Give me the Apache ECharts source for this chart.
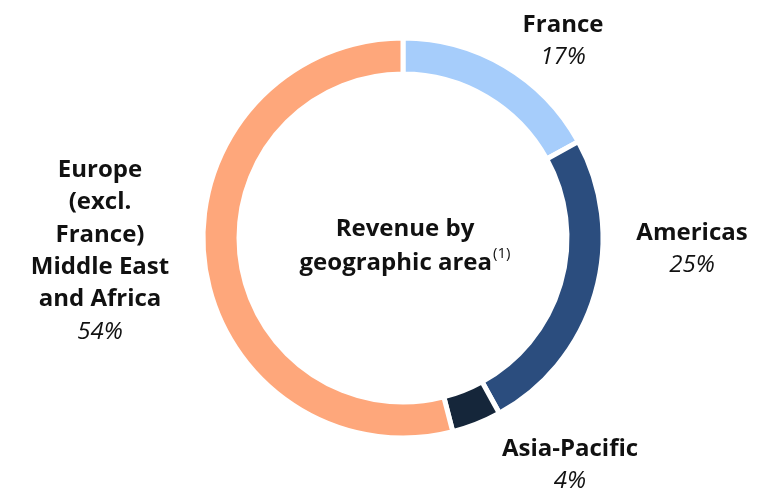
<!DOCTYPE html>
<html>
<head>
<meta charset="utf-8">
<script src="https://cdn.jsdelivr.net/npm/echarts@6/dist/echarts.min.js"></script>
<style>
html,body{margin:0;padding:0;background:#fff;}
#chart{width:769px;height:498px;}
</style>
</head>
<body>
<div id="chart"></div>
<script>
const categories = ["France", "Americas", "Asia-Pacific", "Europe\n(excl.\nFrance)\nMiddle East\nand Africa"];
const shares = [17, 25, 4, 54];
const colors = ["#a6cdfb", "#2b4d7e", "#15263a", "#fea77b"];
const labelAnchors = [[563, 41], [692, 249], [570, 465], [100, 251]];
const centerTitle = ["Revenue by", "geographic area"];
const centerNote = "(1)";

const FONT = "Open Sans";
const chart = echarts.init(document.getElementById('chart'), null, {renderer: 'canvas'});

const data = categories.map((c, i) => ({
  name: c,
  value: shares[i],
  itemStyle: {color: colors[i]}
}));

chart.setOption({
  animation: false,
  backgroundColor: '#ffffff',
  graphic: [{
    type: 'text',
    x: 405,
    y: 246,
    style: {
      text: '{t|' + centerTitle[0] + '}\n{t|' + centerTitle[1] + '}{s|' + centerNote + '}',
      align: 'center',
      verticalAlign: 'middle',
      rich: {
        t: {fontFamily: FONT, fontWeight: 'bold', fontSize: 24, lineHeight: 34, fill: '#111', align: 'center'},
        s: {fontFamily: FONT, fontSize: 15, lineHeight: 34, fill: '#111', verticalAlign: 'top', padding: [0, 0, 10, 1], align: 'center'}
      }
    }
  }],
  series: [{
    type: 'pie',
    center: [403, 238],
    radius: [164, 200],
    startAngle: 90,
    clockwise: true,
    avoidLabelOverlap: false,
    itemStyle: {borderColor: '#ffffff', borderWidth: 5},
    label: {
      show: true,
      position: 'outside',
      formatter: p => '{b|' + p.name + '}\n{p|' + p.value + '%}',
      align: 'center',
      rich: {
        b: {fontFamily: FONT, fontWeight: 'bold', fontSize: 24, lineHeight: 32.3, color: '#111', align: 'center'},
        p: {fontFamily: FONT, fontStyle: 'italic', fontSize: 24, lineHeight: 32.3, color: '#111', align: 'center'}
      }
    },
    labelLine: {show: false},
    labelLayout: function (params) {
      const a = labelAnchors[params.dataIndex];
      return {x: a[0], y: a[1], align: 'center', verticalAlign: 'middle', hideOverlap: false};
    },
    emphasis: {disabled: true},
    data: data
  }]
});
</script>
</body>
</html>
